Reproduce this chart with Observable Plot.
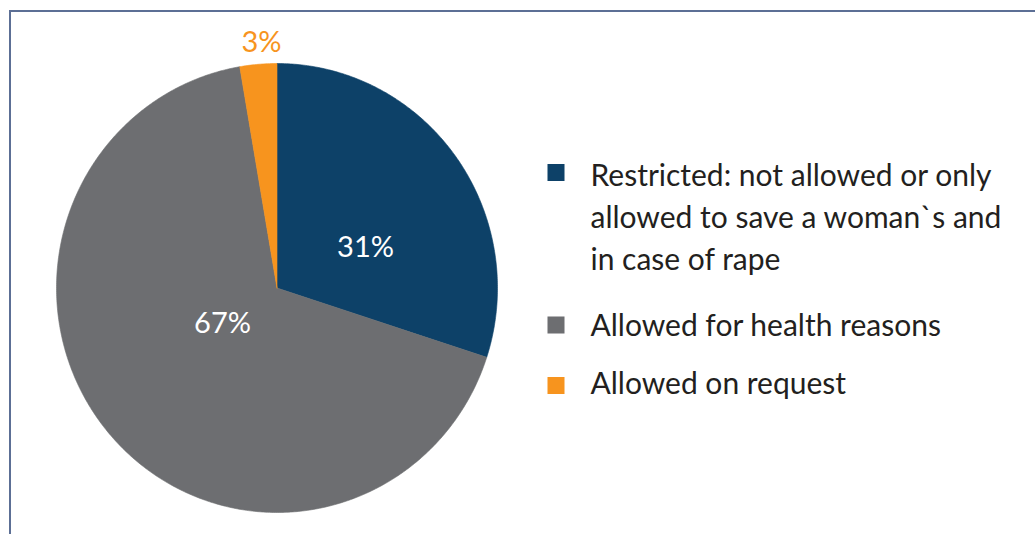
<!DOCTYPE html>
<html><head><meta charset="utf-8">
<script src="https://cdn.jsdelivr.net/npm/d3@7"></script>
<script src="https://cdn.jsdelivr.net/npm/@observablehq/plot@0.6"></script>
<style>
body{margin:0;background:#fff;}
#wrap{position:relative;width:1035px;height:534px;overflow:hidden;}
#frame{position:absolute;left:8.5px;top:10px;width:1100px;height:600px;border-top:2.6px solid #5c6f95;border-left:2.6px solid #5c6f95;pointer-events:none;}
#chart{position:absolute;left:0;top:0;}
</style></head><body><div id="wrap"><div id="chart"></div><div id="frame"></div></div>
<script>
// ---- data ----
const categories = ["Restricted", "Health reasons", "On request"];
const legendLines = [
  ["Restricted: not allowed or only", "allowed to save a woman`s and", "in case of rape"],
  ["Allowed for health reasons"],
  ["Allowed on request"]
];
const shares = [30.0, 67.3, 2.7];
const shareLabels = ["31%", "67%", "3%"];   // printed labels
const colors = ["#0d4168", "#6d6e71", "#f7941e"];
const labelColors = ["#ffffff", "#ffffff", "#f7941e"];

// ---- layout ----
const W = 1035, H = 534;
const cx = 276.5, cy = 287.5, Rx = 220.5, Ry = 224.5;
const labelRadius = [0.44, 0.293, 1.096];
const labelAngleShift = [11.8, 8.3, 1.2];   // degrees, clockwise from slice middle
const font = "Lato, 'Open Sans', sans-serif";
const legendX = 555.5, legendTextX = 590, legendSwatchY = [172, 324.5, 385];
const legendFirstBaseline = [185, 335, 393], legendLineGap = 42;

const px = v => (v - cx) / Rx;
const py = v => (cy - v) / Ry;

// ---- pie geometry from data ----
const arcs = d3.pie().sort(null).startAngle(0).endAngle(2 * Math.PI)(shares);
const polys = [];
arcs.forEach((a, i) => {
  polys.push({cat: categories[i], x: 0, y: 0});
  const steps = Math.max(4, Math.ceil((a.endAngle - a.startAngle) / (Math.PI / 360)));
  for (let k = 0; k <= steps; k++) {
    const t = a.startAngle + (a.endAngle - a.startAngle) * k / steps;
    polys.push({cat: categories[i], x: Math.sin(t), y: Math.cos(t)});
  }
  polys.push({cat: categories[i], x: 0, y: 0});
});
const labelData = arcs.map((a, i) => {
  const m = (a.startAngle + a.endAngle) / 2 + labelAngleShift[i] * Math.PI / 180;
  return {text: shareLabels[i], color: labelColors[i], x: labelRadius[i] * Math.sin(m), y: labelRadius[i] * Math.cos(m)};
});
const swatches = categories.map((c, i) => ({cat: c, x: px(legendX), y: py(legendSwatchY[i])}));
const legendText = [];
legendLines.forEach((lines, i) => lines.forEach((t, j) =>
  legendText.push({text: t, x: px(legendTextX), y: py(legendFirstBaseline[i] + j * legendLineGap)})));

const chart = Plot.plot({
  width: W, height: H,
  margin: 0,
  x: {domain: [-1, 1], range: [cx - Rx, cx + Rx], axis: null},
  y: {domain: [-1, 1], range: [cy + Ry, cy - Ry], axis: null},
  color: {domain: categories, range: colors},
  style: {fontFamily: font, background: "transparent"},
  marks: [
    Plot.line(polys, {x: "x", y: "y", z: "cat", fill: "cat", stroke: "cat", strokeWidth: 0.6, curve: "linear"}),
    Plot.text(labelData, {x: "x", y: "y", text: "text", fill: d => d.color, fontSize: 29, textAnchor: "middle"}),
    Plot.dot(swatches, {x: "x", y: "y", symbol: "square", fill: "cat", r: 9.6}),
    Plot.text(legendText, {x: "x", y: "y", text: "text", fill: "#231f20", fontSize: 30, textAnchor: "start", lineAnchor: "bottom"})
  ]
});
document.getElementById("chart").appendChild(chart);
</script>
</body></html>
